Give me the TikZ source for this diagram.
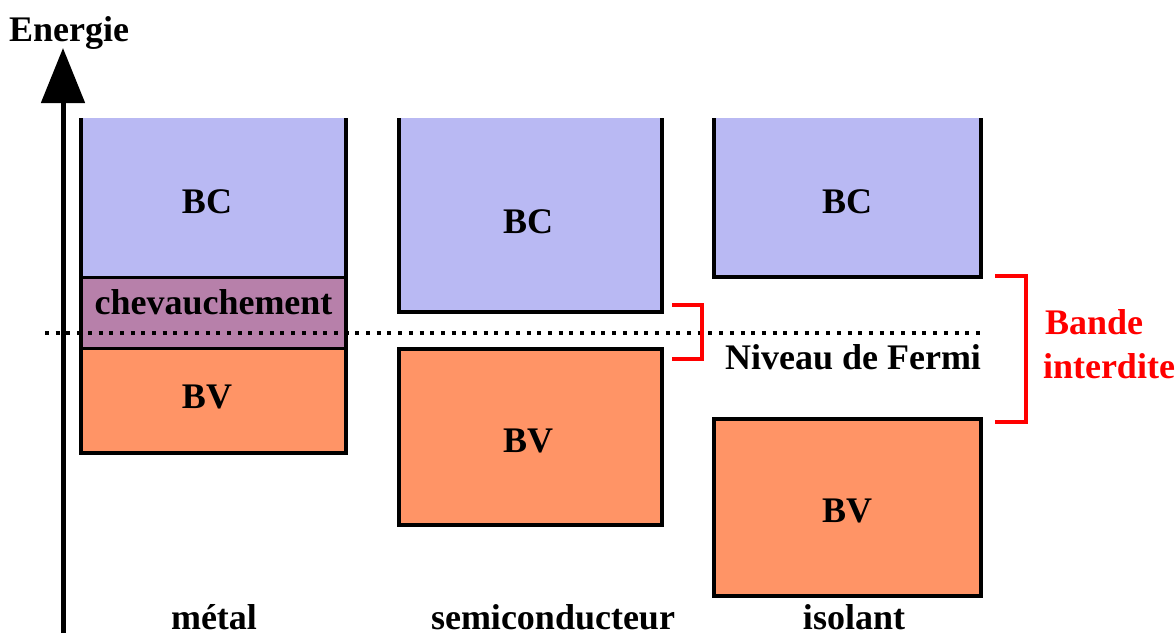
\documentclass[tikz,border=0pt]{standalone}
\usepackage{fontspec}
\setmainfont{Liberation Serif}
\usetikzlibrary{arrows.meta}
\definecolor{bccol}{RGB}{185,185,243}
\definecolor{bvcol}{RGB}{255,148,102}
\definecolor{chcol}{RGB}{183,128,170}
\definecolor{redcol}{RGB}{255,0,0}
\tikzset{
  band/.style={inner sep=0pt, outer sep=0pt, draw=none, rectangle},
  bordr/.style={line width=4pt, black, line join=miter},
  sep/.style={line width=3pt, black},
  lbl/.style={inner sep=0pt, outer sep=0pt, anchor=base, font=\fontsize{36pt}{40pt}\selectfont\bfseries},
  redlbl/.style={lbl, anchor=base west, text=redcol},
  bracket/.style={line width=4pt, redcol, line join=miter},
  fermi/.style={line width=4pt, black, dash pattern=on 4pt off 6.7pt},
  axis/.style={line width=5pt, black, -{Triangle[width=43pt,length=55pt]}}
}
\begin{document}
\begin{tikzpicture}[x=1pt,y=-1pt]
\useasboundingbox (0,0) rectangle (1175,633);

% metal
\node[band, fill=bccol, minimum width=265pt, minimum height=159pt] (mBC) at (213.5,197.5) {};
\node[band, fill=chcol, minimum width=265pt, minimum height=71pt] (mCH) at (213.5,312.5) {};
\node[band, fill=bvcol, minimum width=265pt, minimum height=105pt] (mBV) at (213.5,400.5) {};
\draw[sep] (mCH.north west) -- (mCH.north east);
\draw[sep] (mCH.south west) -- (mCH.south east);
\draw[bordr] (mBC.north west) -- (mBV.south west) -- (mBV.south east) -- (mBC.north east);

% semiconducteur
\node[band, fill=bccol, minimum width=263pt, minimum height=194pt] (sBC) at (530.5,215) {};
\node[band, fill=bvcol, minimum width=263pt, minimum height=176pt] (sBV) at (530.5,437) {};
\draw[bordr] (sBC.north west) -- (sBC.south west) -- (sBC.south east) -- (sBC.north east);
\draw[bordr] (sBV.north west) rectangle (sBV.south east);

% isolant
\node[band, fill=bccol, minimum width=267pt, minimum height=159pt] (iBC) at (847.5,197.5) {};
\node[band, fill=bvcol, minimum width=267pt, minimum height=177pt] (iBV) at (847.5,507.5) {};
\draw[bordr] (iBC.north west) -- (iBC.south west) -- (iBC.south east) -- (iBC.north east);
\draw[bordr] (iBV.north west) rectangle (iBV.south east);

% axis
\coordinate (axbot) at (63,633);
\coordinate (axtop) at (63,48);
\draw[axis] (axbot) -- (axtop);
\node[lbl] (energie) at (69,41) {Energie};

% Fermi level
\coordinate (fA) at (45,333);
\coordinate (fB) at (980,333);
\draw[fermi] (fA) -- (fB);

% band labels
\node[lbl] (tmBC) at (207,213) {BC};
\node[lbl] (tmCH) at (213.5,314) {chevauchement};
\node[lbl] (tmBV) at (207,408) {BV};
\node[lbl] (tsBC) at (528,233) {BC};
\node[lbl] (tsBV) at (528,452) {BV};
\node[lbl] (tiBC) at (847,213) {BC};
\node[lbl] (tiBV) at (847,522) {BV};
\node[lbl] (tfermi) at (853,369) {Niveau de Fermi};

% brackets
\coordinate (b1a) at (672,305);
\coordinate (b1b) at (702,305);
\coordinate (b1c) at (702,359);
\coordinate (b1d) at (672,359);
\draw[bracket] (b1a) -- (b1b) -- (b1c) -- (b1d);
\coordinate (b2a) at (995,276);
\coordinate (b2b) at (1026,276);
\coordinate (b2c) at (1026,422);
\coordinate (b2d) at (995,422);
\draw[bracket] (b2a) -- (b2b) -- (b2c) -- (b2d);
\node[redlbl] (bande) at (1045,334) {Bande};
\node[redlbl] (interdite) at (1043,378) {interdite};

% column labels
\node[lbl] (metal) at (214,629) {métal};
\node[lbl] (semi) at (553,629) {semiconducteur};
\node[lbl] (isol) at (854,629) {isolant};
\end{tikzpicture}
\end{document}
